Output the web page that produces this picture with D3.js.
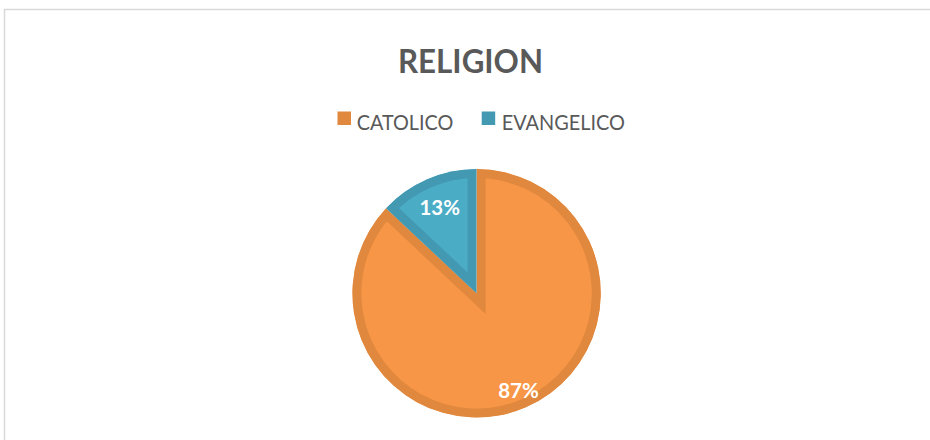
<!DOCTYPE html>
<html>
<head>
<meta charset="utf-8">
<script src="https://cdn.jsdelivr.net/npm/d3@7/dist/d3.min.js"></script>
<style>
  html, body { margin: 0; padding: 0; background: #ffffff; }
  svg { display: block; }
</style>
</head>
<body>
<svg id="chart" width="930" height="440"></svg>
<script>
const title = "RELIGION";
const categories = ["CATOLICO", "EVANGELICO"];
const values = [87, 13];
const fillColors = ["#F79646", "#4BACC6"];
const borderColors = ["#E0883E", "#4398B2"];

const svg = d3.select("#chart");
const W = 930, H = 440;

// outer chart frame (only top/left visible in the crop)
svg.append("rect")
  .attr("x", 4.5).attr("y", 9.5)
  .attr("width", 1000).attr("height", 1000)
  .attr("fill", "none")
  .attr("stroke", "#D9D9D9")
  .attr("stroke-width", 1.5);

// Title
svg.append("text")
  .attr("x", 398).attr("y", 73)
  .attr("font-family", "Lato, 'Open Sans', sans-serif")
  .attr("font-weight", 700)
  .attr("font-size", 32)
  .attr("fill", "#595959")
  .attr("textLength", 145)
  .attr("lengthAdjust", "spacingAndGlyphs")
  .text(title);

// Legend
const legendItems = [
  { x: 337.5, textX: 356.7, textW: 96.6 },
  { x: 481.7, textX: 501.7, textW: 123.3 }
];
const legend = svg.append("g");
categories.forEach((c, i) => {
  legend.append("rect")
    .attr("x", legendItems[i].x).attr("y", 111.5)
    .attr("width", 13.5).attr("height", 13.5)
    .attr("fill", borderColors[i]);
  legend.append("text")
    .attr("x", legendItems[i].textX).attr("y", 130)
    .attr("font-family", "Lato, 'Open Sans', sans-serif")
    .attr("font-size", 21)
    .attr("fill", "#595959")
    .attr("textLength", legendItems[i].textW)
    .attr("lengthAdjust", "spacingAndGlyphs")
    .text(c);
});

// Pie
const cx = 476.6, cy = 293.3, R = 124.2, band = 9;
const pie = d3.pie().sort(null).value(d => d);
const arcs = pie(values);
const arc = d3.arc().innerRadius(0).outerRadius(R);
const g = svg.append("g").attr("transform", `translate(${cx},${cy})`);
const defs = svg.append("defs");

arcs.forEach((a, i) => {
  defs.append("clipPath").attr("id", "clip" + i)
    .append("path").attr("d", arc(a));
  g.append("path")
    .attr("d", arc(a))
    .attr("fill", fillColors[i])
    .attr("stroke", borderColors[i])
    .attr("stroke-width", band * 2)
    .attr("stroke-linejoin", "miter")
    .attr("stroke-miterlimit", 10)
    .attr("clip-path", `url(#clip${i})`);
});

// Data labels
const total = d3.sum(values);
const labelRadius = [105.5, 93];
arcs.forEach((a, i) => {
  const mid = (a.startAngle + a.endAngle) / 2;
  const lx = Math.sin(mid) * labelRadius[i];
  const ly = -Math.cos(mid) * labelRadius[i];
  g.append("text")
    .attr("x", lx).attr("y", ly + 7.5)
    .attr("text-anchor", "middle")
    .attr("font-family", "Lato, 'Open Sans', sans-serif")
    .attr("font-weight", 700)
    .attr("font-size", 21)
    .attr("fill", "#ffffff")
    .attr("textLength", 40.5)
    .attr("lengthAdjust", "spacingAndGlyphs")
    .text(Math.round(values[i] / total * 100) + "%");
});
</script>
</body>
</html>
